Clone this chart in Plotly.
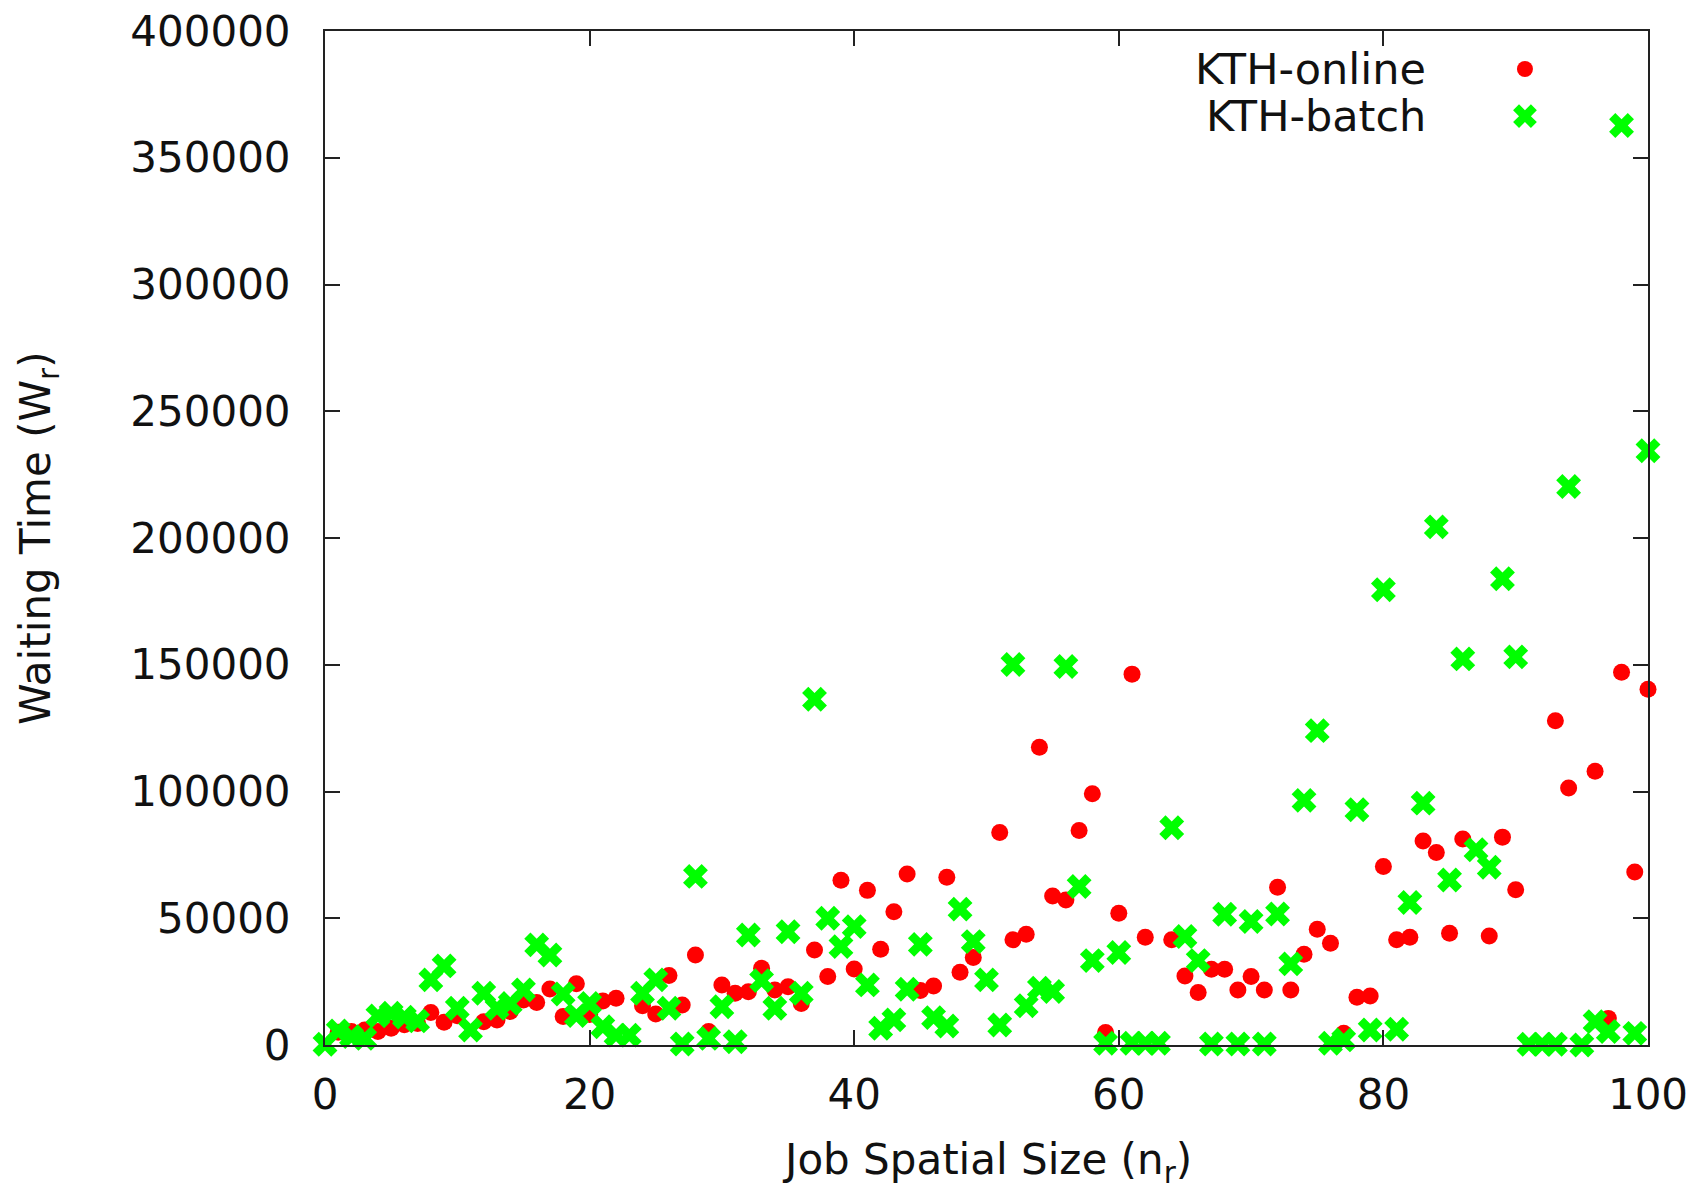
import plotly.graph_objects as go

# ---- data ----
online_x = [1, 2, 3, 4, 5, 6, 7, 8, 9, 10, 12, 13, 14, 15, 16, 17, 18, 19, 20,
            21, 22, 24, 25, 26, 27, 28, 29, 30, 31, 32, 33, 34, 35, 36, 37, 38, 39, 40,
            41, 42, 43, 44, 45, 46, 47, 48, 49, 51, 52, 53, 54, 55, 56, 57, 58, 59, 60,
            61, 62, 64, 65, 66, 67, 68, 69, 70, 71, 72, 73, 74, 75, 76, 77, 78, 79, 80,
            81, 82, 83, 84, 85, 86, 88, 89, 90, 93, 94, 96, 97, 98, 99, 100]
online_y = [5000, 5300, 5900, 5300, 6600, 8000, 8500, 12800, 9000, 11500, 9200, 9900, 13200, 17800, 16800, 22100, 11200, 24200, 12000,
            17400, 18400, 15500, 12200, 27400, 15800, 35500, 5300, 23700, 20400, 21000, 30300, 21700, 23000, 16400, 37500, 27000, 65000, 30000,
            61000, 37800, 52600, 67500, 21500, 23300, 66200, 28700, 34500, 83800, 41500, 43700, 117500, 58800, 57200, 84600, 99100, 4900, 52000,
            146300, 42500, 41500, 27200, 20700, 29900, 29900, 21700, 27000, 21700, 62200, 21700, 35800, 45700, 40100, 4600, 18800, 19300, 70400,
            41500, 42500, 80500, 75900, 44100, 81300, 43000, 82000, 61200, 127900, 101400, 108000, 10500, 147000, 68200, 140300]

batch_x = list(range(0, 101))
batch_y = [300, 5500, 3300, 2600, 11500, 12500, 11000, 9500, 25700, 31200,
           14500, 5900, 20400, 14500, 16400, 21700, 39500, 35500, 20100, 11600,
           16400, 7200, 3900, 3900, 20400, 25700, 14500, 400, 66500, 2600,
           15100, 1300, 43400, 25400, 14500, 44700, 20400, 136400, 50000, 38800,
           46700, 23700, 6600, 9900, 22000, 39700, 10800, 7500, 53600, 40800,
           25700, 7900, 150100, 15500, 22400, 21100, 149300, 62500, 33300, 700,
           36500, 700, 700, 700, 85700, 42800, 33300, 400, 51600, 400,
           48700, 400, 51700, 32000, 96500, 124000, 700, 2000, 92800, 5900,
           179600, 6200, 56200, 95400, 204400, 65100, 152300, 77000, 70100, 183900,
           153100, 300, 300, 300, 220300, 0, 9200, 5300, 362700, 4600,
           234400]

x_ticks = [0, 20, 40, 60, 80, 100]
y_ticks = [0, 50000, 100000, 150000, 200000, 250000, 300000, 350000, 400000]
y_tick_text = [str(v) for v in y_ticks]

series_names = ["KTH-online", "KTH-batch"]

RED = "#ff0000"
GREEN = "#00ff00"
FONT = "DejaVu Sans"
FS = 42

fig = go.Figure()

fig.add_trace(go.Scatter(
    x=online_x, y=online_y, mode="markers", name=series_names[0],
    marker=dict(symbol="circle", size=17, color=RED, line=dict(width=0)),
    cliponaxis=False, showlegend=False))

fig.add_trace(go.Scatter(
    x=batch_x, y=batch_y, mode="markers", name=series_names[1],
    marker=dict(symbol="x", size=22, color=GREEN, line=dict(width=0)),
    cliponaxis=False, showlegend=False))

# legend keys on an invisible overlay axis (0..1 of the plot area)
fig.add_trace(go.Scatter(
    x=[0.907], y=[0.9625], mode="markers", xaxis="x2", yaxis="y2",
    marker=dict(symbol="circle", size=16, color=RED), showlegend=False,
    cliponaxis=False, hoverinfo="skip"))
fig.add_trace(go.Scatter(
    x=[0.907], y=[0.916], mode="markers", xaxis="x2", yaxis="y2",
    marker=dict(symbol="x", size=21, color=GREEN), showlegend=False,
    cliponaxis=False, hoverinfo="skip"))

axis_common = dict(
    showgrid=False, zeroline=False, showline=True, linecolor="#222222", linewidth=2,
    mirror="ticks", ticks="inside", ticklen=15, tickwidth=2, tickcolor="#222222",
    tickfont=dict(family=FONT, size=FS, color="#111111"),
)

fig.update_layout(
    width=1699, height=1189,
    margin=dict(l=325, r=51, t=31, b=144, autoexpand=False),
    paper_bgcolor="white", plot_bgcolor="white",
    font=dict(family=FONT, size=FS, color="#111111"),
    xaxis=dict(range=[0, 100], tickvals=x_ticks, ticklabelstandoff=12, **axis_common),
    yaxis=dict(range=[0, 400000], tickvals=y_ticks, ticktext=y_tick_text,
               ticklabelstandoff=24, **axis_common),
    xaxis2=dict(range=[0, 1], overlaying="x", visible=False, fixedrange=True),
    yaxis2=dict(range=[0, 1], overlaying="y", visible=False, fixedrange=True),
    annotations=[
        dict(text=series_names[0], x=0.8337, y=0.9625, xref="paper", yref="paper",
             xanchor="right", yanchor="middle", showarrow=False,
             font=dict(family=FONT, size=FS + 1, color="#111111")),
        dict(text=series_names[1], x=0.8337, y=0.916, xref="paper", yref="paper",
             xanchor="right", yanchor="middle", showarrow=False,
             font=dict(family=FONT, size=FS + 1, color="#111111")),
        dict(text="Job Spatial Size (n<sub>r</sub>)", x=0.5, y=0, xref="paper", yref="paper",
             xanchor="center", yanchor="top", yshift=-88, showarrow=False,
             font=dict(family=FONT, size=FS, color="#111111")),
        dict(text="Waiting Time (W<sub>r</sub>)", x=0, y=0.5, xref="paper", yref="paper",
             xanchor="center", yanchor="middle", xshift=-287, textangle=-90, showarrow=False,
             font=dict(family=FONT, size=FS, color="#111111")),
    ],
)

fig.write_html("out.html")
